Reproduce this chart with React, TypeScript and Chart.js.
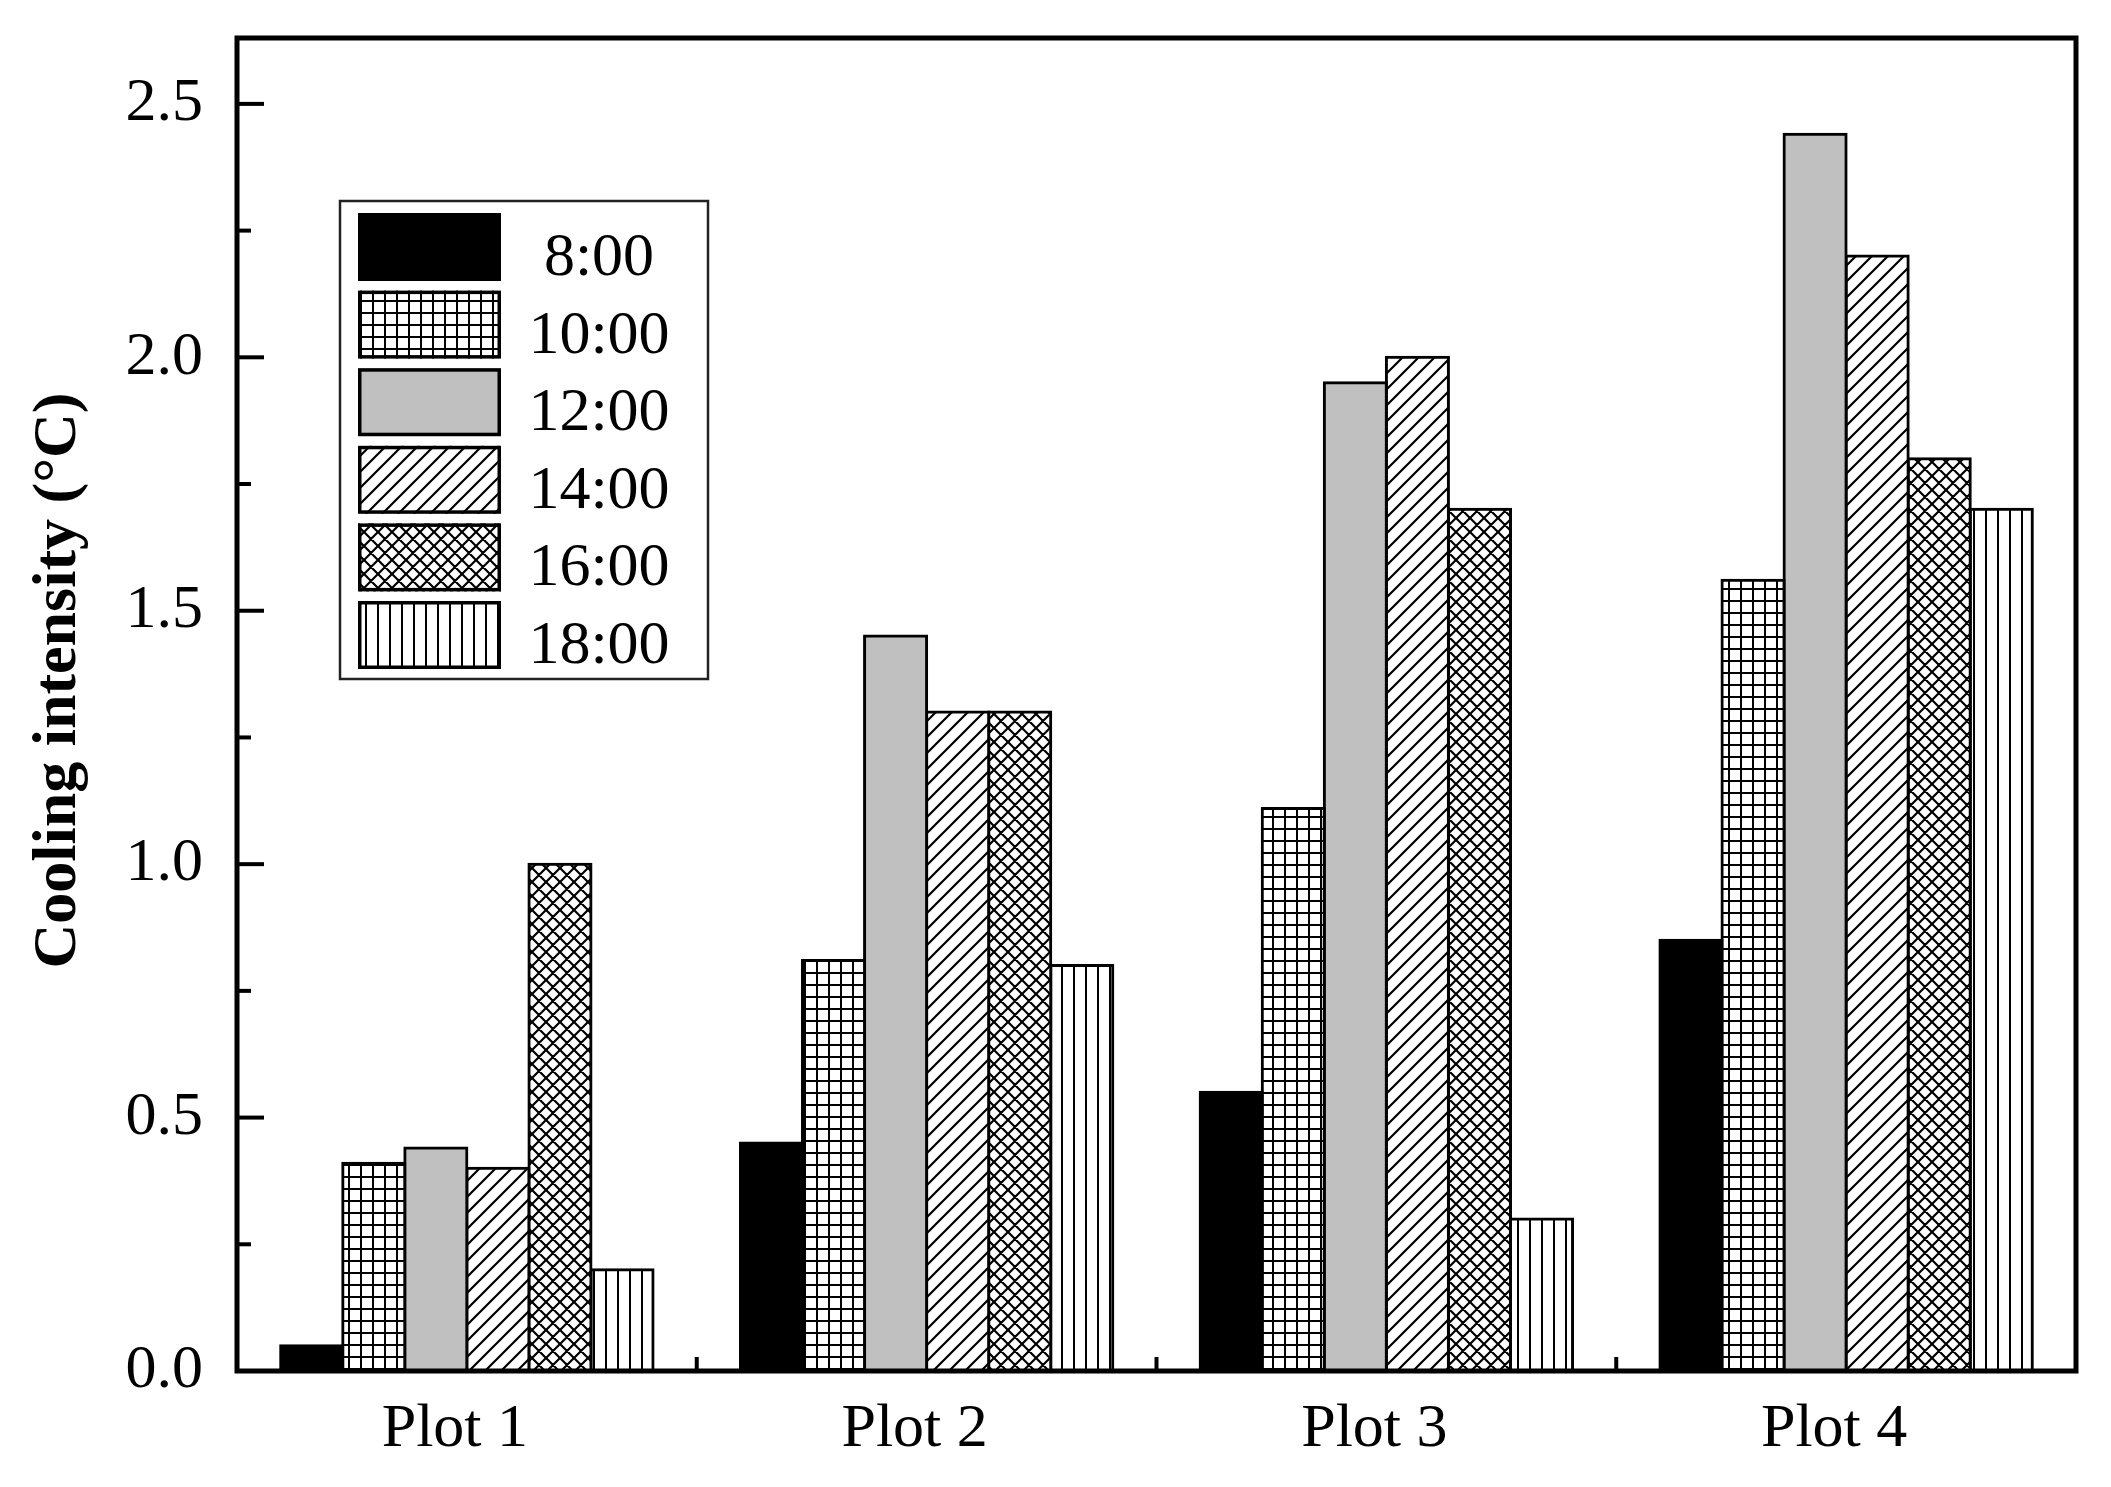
import React, { useEffect, useRef } from 'react';
import { Chart, registerables } from 'chart.js';

Chart.register(...registerables);

const categories = ['Plot 1', 'Plot 2', 'Plot 3', 'Plot 4'];
const seriesNames = ['8:00', '10:00', '12:00', '14:00', '16:00', '18:00'];
const s0800 = [0.05, 0.45, 0.55, 0.85];
const s1000 = [0.41, 0.81, 1.11, 1.56];
const s1200 = [0.44, 1.45, 1.95, 2.44];
const s1400 = [0.40, 1.30, 2.00, 2.20];
const s1600 = [1.00, 1.30, 1.70, 1.80];
const s1800 = [0.20, 0.80, 0.30, 1.70];
const seriesValues = [s0800, s1000, s1200, s1400, s1600, s1800];
const fillKinds = ['solid', 'grid', 'gray', 'diag', 'cross', 'vert'];
const yMin = 0;
const yMax = 2.63;
const yStep = 0.5;
const yMinorStep = 0.25;
const yTitle = 'Cooling intensity (\u00B0C)';

const SERIF = '"Liberation Serif", "Times New Roman", serif';

function makeFill(kind: string): any {
  if (kind === 'solid') return '#000000';
  if (kind === 'gray') return '#c0c0c0';
  const size = kind === 'grid' ? 12 : kind === 'diag' ? 16 : kind === 'cross' ? 14 : 12;
  const c = document.createElement('canvas');
  c.width = size;
  c.height = size;
  const ctx = c.getContext('2d') as CanvasRenderingContext2D;
  ctx.fillStyle = '#ffffff';
  ctx.fillRect(0, 0, size, size);
  ctx.fillStyle = '#000000';
  ctx.strokeStyle = '#000000';
  ctx.lineWidth = 2.2;
  if (kind === 'grid') {
    ctx.fillRect(0, 0, size, 2);
    ctx.fillRect(0, 0, 2, size);
  } else if (kind === 'vert') {
    ctx.fillRect(5, 0, 2, size);
  } else if (kind === 'diag') {
    ctx.beginPath();
    ctx.moveTo(-2, size + 2);
    ctx.lineTo(size + 2, -2);
    ctx.moveTo(-4, 4);
    ctx.lineTo(4, -4);
    ctx.moveTo(size - 4, size + 4);
    ctx.lineTo(size + 4, size - 4);
    ctx.stroke();
  } else if (kind === 'cross') {
    ctx.beginPath();
    ctx.moveTo(-2, size + 2);
    ctx.lineTo(size + 2, -2);
    ctx.moveTo(-2, -2);
    ctx.lineTo(size + 2, size + 2);
    ctx.moveTo(-4, 4);
    ctx.lineTo(4, -4);
    ctx.moveTo(size - 4, size + 4);
    ctx.lineTo(size + 4, size - 4);
    ctx.moveTo(size - 4, -4);
    ctx.lineTo(size + 4, 4);
    ctx.moveTo(-4, size - 4);
    ctx.lineTo(4, size + 4);
    ctx.stroke();
  }
  const p = ctx.createPattern(c, 'repeat');
  return p;
}

const decorPlugin = {
  id: 'decor',
  afterDatasetsDraw(chart: any) {
    const { ctx, chartArea } = chart;
    const { left, right, top, bottom } = chartArea;
    const yScale = chart.scales.y;
    const xScale = chart.scales.x;
    ctx.save();
    ctx.strokeStyle = '#000000';
    ctx.fillStyle = '#000000';
    // y ticks (inward)
    ctx.lineWidth = 4;
    for (let v = yMin; v <= yMax + 1e-9; v += yMinorStep) {
      const major = Math.abs(v / yStep - Math.round(v / yStep)) < 1e-6;
      const py = yScale.getPixelForValue(v);
      const len = major ? 27 : 14;
      ctx.beginPath();
      ctx.moveTo(left, py);
      ctx.lineTo(left + len, py);
      ctx.stroke();
    }
    // x minor ticks between categories
    for (let i = 0; i < categories.length - 1; i++) {
      const px = (xScale.getPixelForValue(i) + xScale.getPixelForValue(i + 1)) / 2;
      ctx.beginPath();
      ctx.moveTo(px, bottom);
      ctx.lineTo(px, bottom - 14);
      ctx.stroke();
    }
    // frame
    ctx.lineWidth = 5;
    ctx.strokeRect(left, top, right - left, bottom - top);

    // legend
    const lx = left + 103;
    const ly = top + 163;
    const lw = 368;
    const lh = 478;
    ctx.fillStyle = '#ffffff';
    ctx.fillRect(lx, ly, lw, lh);
    ctx.lineWidth = 2.5;
    ctx.strokeStyle = '#222222';
    ctx.strokeRect(lx, ly, lw, lh);
    const datasets = chart.data.datasets;
    for (let i = 0; i < datasets.length; i++) {
      const sx = lx + 18;
      const sy = ly + 12 + i * 77.6;
      const sw = 143;
      const sh = 68;
      ctx.fillStyle = datasets[i].backgroundColor;
      ctx.fillRect(sx, sy, sw, sh);
      ctx.lineWidth = 3.5;
      ctx.strokeStyle = '#000000';
      ctx.strokeRect(sx + 1.75, sy + 1.75, sw - 3.5, sh - 3.5);
      ctx.fillStyle = '#000000';
      ctx.font = '62px ' + SERIF;
      ctx.textAlign = 'center';
      ctx.textBaseline = 'alphabetic';
      ctx.fillText(datasets[i].label, lx + 259, sy + 62);
    }
    ctx.restore();
  },
  afterDraw(chart: any) {
    const { ctx, chartArea } = chart;
    const cy = chartArea.top + 0.482 * (chartArea.bottom - chartArea.top);
    ctx.save();
    ctx.fillStyle = '#000000';
    ctx.font = 'bold 62px ' + SERIF;
    ctx.translate(75, cy);
    ctx.rotate(-Math.PI / 2);
    ctx.textAlign = 'center';
    ctx.textBaseline = 'alphabetic';
    ctx.fillText(yTitle, 0, 0);
    ctx.restore();
  },
};

function zeroPadding(scale: any) {
  scale.paddingTop = 0;
  scale.paddingBottom = 0;
  scale.paddingLeft = 0;
  scale.paddingRight = 0;
}

export default function App() {
  const canvasRef = useRef<HTMLCanvasElement | null>(null);

  useEffect(() => {
    document.body.style.margin = '0';
    document.body.style.overflow = 'hidden';
    const canvas = canvasRef.current;
    if (!canvas) return;
    const datasets = seriesNames.map((name, i) => ({
      label: name,
      data: seriesValues[i],
      backgroundColor: makeFill(fillKinds[i]),
      borderColor: '#000000',
      borderWidth: 3,
      inflateAmount: 1.5,
      categoryPercentage: 0.81,
      barPercentage: 1.0,
    }));
    const chart = new Chart(canvas, {
      type: 'bar',
      data: { labels: categories, datasets },
      options: {
        animation: false,
        responsive: false,
        devicePixelRatio: 1,
        events: [],
        layout: { padding: { left: 0, top: 38, right: 35, bottom: 0 } },
        plugins: {
          legend: { display: false },
          tooltip: { enabled: false },
          title: { display: false },
        },
        scales: {
          x: {
            grid: { display: false, drawTicks: false },
            border: { display: false },
            ticks: {
              color: '#000000',
              font: { family: SERIF, size: 62 },
              padding: 22,
              labelOffset: -12,
              maxRotation: 0,
            },
            afterFit(scale: any) {
              scale.height = 116;
              zeroPadding(scale);
            },
          },
          y: {
            min: yMin,
            max: yMax,
            grid: { display: false, drawTicks: false },
            border: { display: false },
            ticks: {
              stepSize: yStep,
              includeBounds: false,
              color: '#000000',
              font: { family: SERIF, size: 62 },
              padding: 34,
              callback: (v: any) => Number(v).toFixed(1),
            },
            afterFit(scale: any) {
              scale.width = 237;
              zeroPadding(scale);
            },
          },
        },
      },
      plugins: [decorPlugin],
    } as any);
    return () => chart.destroy();
  }, []);

  return (
    <div style={{ width: 2111, height: 1487, background: '#ffffff' }}>
      <canvas ref={canvasRef} width={2111} height={1487} style={{ display: 'block' }} />
    </div>
  );
}
